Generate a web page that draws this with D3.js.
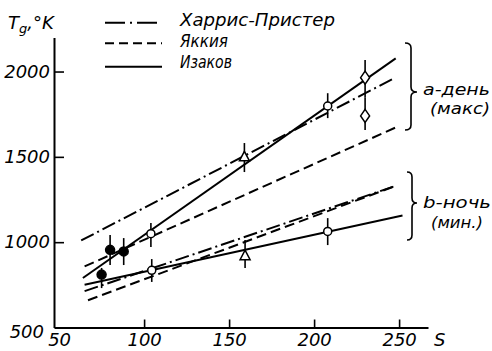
<!DOCTYPE html>
<html><head><meta charset="utf-8">
<script src="https://cdn.jsdelivr.net/npm/d3@7"></script>
<style>
html,body{margin:0;padding:0;background:#fff;}
svg{display:block;}
text{font-family:"DejaVu Sans","Liberation Sans",sans-serif;font-style:italic;fill:#000;}
</style></head>
<body>
<svg id="c" width="492" height="351"></svg>
<script>
// ---- data ----
const legendLabels = ["Харрис-Пристер", "Яккия", "Изаков"];
const xTicks = [50, 100, 150, 200, 250];
const yTicks = [500, 1000, 1500, 2000];

// model lines: [S, T] end points
const harrisDay   = [[63, 1010], [247, 1960]];
const jacchiaDay  = [[65, 858],  [250, 1681]];
const izakovDay   = [[64, 790],  [248, 2077]];
const harrisNight = [[65, 713],  [248, 1330]];
const jacchiaNight= [[67, 660],  [248, 1330]];
const izakovNight = [[65, 751],  [252, 1156]];

// observations
const obsS     = [75,  80,  88,  104, 159, 208, 230, 230, 104.5, 159.4, 208];
const obsT     = [810, 955, 946, 1050,1500,1798,1964,1740, 835,  921,  1063];
const obsLo    = [731, 866, 866, 972, 1411,1727,1850,1657, 767,  849,  983];
const obsHi    = [849, 1042,1024,1112,1581,1873,2067,1850, 901,  1013, 1141];
const obsShape = ["dot","dot","dot","circle","triangle","circle","diamond","diamond","circle","triangle","circle"];

// ---- drawing ----
const svg = d3.select("#c");
const x = d3.scaleLinear().domain([47, 267]).range([54, 428]);
const y = d3.scaleLinear().domain([500, 2200]).range([327.5, 37.4]);

// axes
const fmt = d3.format("d");
const xAxis = d3.axisBottom(x).tickValues(xTicks).tickFormat(fmt).tickSizeInner(-8).tickSizeOuter(0).tickPadding(6);
const yAxis = d3.axisLeft(y).tickValues(yTicks).tickFormat(fmt).tickSizeInner(-10).tickSizeOuter(0).tickPadding(4);

const gx = svg.append("g").attr("transform", `translate(0,${y(500)})`).call(xAxis);
const gy = svg.append("g").attr("transform", `translate(${x(47)},0)`).call(yAxis);
[gx, gy].forEach(g => {
  g.select(".domain").attr("stroke", "#000").attr("stroke-width", 2);
  g.selectAll(".tick line").attr("stroke", "#000").attr("stroke-width", 1.6);
  g.selectAll(".tick text").attr("font-size", 18).attr("font-style", "italic")
    .attr("font-family", "DejaVu Sans, sans-serif").attr("fill", "#000");
});
gx.selectAll(".tick").filter(d => d === 50).select("line").remove();
gy.selectAll(".tick").filter(d => d === 500).select("line").remove();
gy.selectAll(".tick").filter(d => d === 500).select("text").attr("x", -10).attr("dy", "0.55em");

// axis titles
svg.append("text").attr("x", 434).attr("y", 346).attr("font-size", 18).text("S");
const yt = svg.append("text").attr("x", 8).attr("y", 29).attr("font-size", 18);
yt.append("tspan").text("T");
yt.append("tspan").attr("font-size", 13).attr("dy", 4).text("g");
yt.append("tspan").attr("dy", -4).text(",°K");

// line styles
const styles = {
  harris: "14,4,2,4",
  jacchia: "10,5",
  izakov: null
};
const line = d3.line().x(d => x(d[0])).y(d => y(d[1]));
const lines = [
  [harrisDay, "harris"], [jacchiaDay, "jacchia"], [izakovDay, "izakov"],
  [harrisNight, "harris"], [jacchiaNight, "jacchia"], [izakovNight, "izakov"]
];
svg.append("g").selectAll("path").data(lines).join("path")
  .attr("d", d => line(d[0]))
  .attr("fill", "none").attr("stroke", "#000").attr("stroke-width", 2)
  .attr("stroke-dasharray", d => styles[d[1]]);

// observations
const obs = obsS.map((s, i) => ({s, t: obsT[i], lo: obsLo[i], hi: obsHi[i], shape: obsShape[i]}));
const og = svg.append("g");
og.selectAll("line").data(obs).join("line")
  .attr("x1", d => x(d.s)).attr("x2", d => x(d.s))
  .attr("y1", d => y(d.lo)).attr("y2", d => y(d.hi))
  .attr("stroke", "#000").attr("stroke-width", 1.6);
const shapePath = {
  circle: "M-4,0A4,4 0 1,0 4,0A4,4 0 1,0 -4,0Z",
  dot: "M-4.5,0A4.5,4.5 0 1,0 4.5,0A4.5,4.5 0 1,0 -4.5,0Z",
  triangle: "M0,-5.5L5,4L-5,4Z",
  diamond: "M0,-6.5L4.5,0L0,6.5L-4.5,0Z"
};
og.selectAll("path").data(obs).join("path")
  .attr("transform", d => `translate(${x(d.s)},${y(d.t)})`)
  .attr("d", d => shapePath[d.shape])
  .attr("fill", d => d.shape === "dot" ? "#000" : "#fff")
  .attr("stroke", "#000").attr("stroke-width", 1.5);

// legend
const legY = [22.7, 43.3, 66.7];
const legBase = [25.5, 46.5, 68];
const legLen = [155, 48, 52];
const lg = svg.append("g");
legendLabels.forEach((lab, i) => {
  lg.append("line").attr("x1", 105).attr("x2", 162).attr("y1", legY[i]).attr("y2", legY[i])
    .attr("stroke", "#000").attr("stroke-width", 2)
    .attr("stroke-dasharray", i === 0 ? "20,5,2,5" : (i === 1 ? "9,5" : null));
  lg.append("text").attr("x", 180).attr("y", legBase[i]).attr("font-size", 17)
    .attr("textLength", legLen[i]).attr("lengthAdjust", "spacingAndGlyphs").text(lab);
});

// braces and group notes
function brace(x0, top, tip, bot, w) {
  const x1 = x0 + w * 0.5, x2 = x0 + w, r = 5;
  return `M${x0},${top}Q${x1},${top} ${x1},${top + r}L${x1},${tip - r}Q${x1},${tip} ${x2},${tip}` +
         `Q${x1},${tip} ${x1},${tip + r}L${x1},${bot - r}Q${x1},${bot} ${x0},${bot}`;
}
svg.append("path").attr("d", brace(405, 43, 92, 130, 12))
  .attr("fill", "none").attr("stroke", "#000").attr("stroke-width", 1.6);
svg.append("path").attr("d", brace(407, 172, 203, 240, 10))
  .attr("fill", "none").attr("stroke", "#000").attr("stroke-width", 1.6);

const notes = [
  ["a-день", 423, 95, 67], ["(макс)", 430, 114, 60],
  ["b-ночь", 423, 208, 68], ["(мин.)", 431, 228, 52]
];
notes.forEach(n => {
  svg.append("text").attr("x", n[1]).attr("y", n[2]).attr("font-size", 16)
    .attr("textLength", n[3]).attr("lengthAdjust", "spacingAndGlyphs").text(n[0]);
});
</script>
</body></html>
